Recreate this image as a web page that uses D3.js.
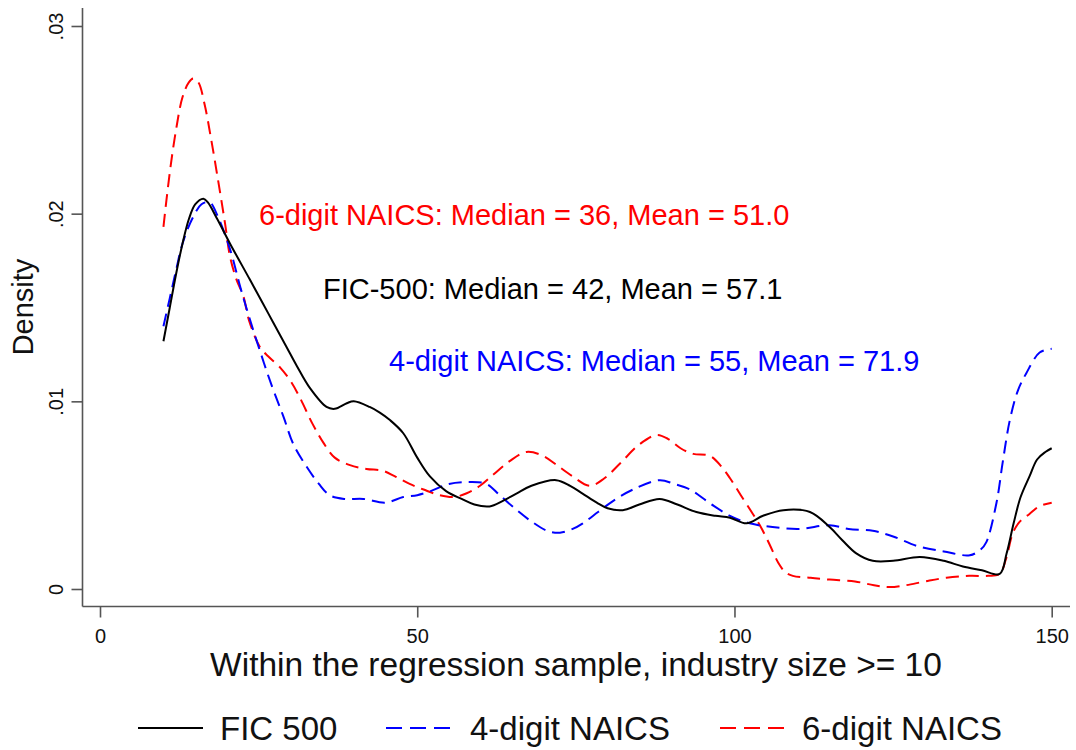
<!DOCTYPE html>
<html>
<head>
<meta charset="utf-8">
<script src="https://cdn.jsdelivr.net/npm/d3@7/dist/d3.min.js"></script>
<style>
  html, body { margin: 0; padding: 0; background: #fff; }
  svg { display: block; font-family: "Liberation Sans", Arial, sans-serif; }
</style>
</head>
<body>
<svg id="chart" width="1076" height="750"></svg>
<script>
// Kernel density of industry size, three industry definitions
const fic500Size = [10, 11, 12, 13, 14, 15, 16.3, 17, 18.5, 20.5, 23.6, 25.7, 27.3, 29.4, 31, 33.1, 35.7, 37, 38.9, 40, 42.5, 44.1, 45.7, 47.8, 50, 52, 54.6, 57, 59, 61.4, 63.5, 65.7, 68, 71.9, 74.1, 76, 78.3, 80, 82.4, 85, 88.2, 91, 94, 97, 99.3, 101.9, 104.5, 107.7, 111.9, 115, 117, 119.2, 121.8, 125, 129.2, 133, 136, 139, 141.8, 142.9, 144, 145.1, 146.5, 147.7, 149, 150];
const fic500Density = [0.0132, 0.0150, 0.0168, 0.0184, 0.0197, 0.0205, 0.0208, 0.0206, 0.0197, 0.0184, 0.0165, 0.0152, 0.0142, 0.0129, 0.0119, 0.0107, 0.0097, 0.0096, 0.0099, 0.0100, 0.0097, 0.0094, 0.0090, 0.0083, 0.0070, 0.0060, 0.0052, 0.0048, 0.0045, 0.0044, 0.0047, 0.0051, 0.0055, 0.0058, 0.0055, 0.0051, 0.0046, 0.0043, 0.0042, 0.0045, 0.0048, 0.0045, 0.0041, 0.0039, 0.0038, 0.0035, 0.0039, 0.0042, 0.0041, 0.0033, 0.0026, 0.0019, 0.0015, 0.0015, 0.0017, 0.0015, 0.0012, 0.0010, 0.0008, 0.0019, 0.0035, 0.0049, 0.0060, 0.0069, 0.0073, 0.0075];

const naics4Size = [10, 11, 12, 13, 14.5, 16, 17.3, 18.5, 20.5, 22.1, 23.5, 25.2, 27, 28.9, 30.5, 32.6, 34.5, 36.2, 38.5, 41.5, 45, 47.8, 50, 52, 55, 58.3, 60.9, 63, 65.7, 68, 70.5, 72.5, 74.5, 76.1, 78.5, 80.9, 84, 88.2, 90.5, 93, 96, 99.3, 102.4, 106, 110.3, 115, 118, 121.8, 125, 128.7, 133, 137.1, 138.8, 139.7, 141.3, 142.3, 143.4, 144.7, 146, 148.1, 150];
const naics4Density = [0.0140, 0.0155, 0.0170, 0.0184, 0.0197, 0.0205, 0.0206, 0.0199, 0.0181, 0.0161, 0.0145, 0.0127, 0.0109, 0.0092, 0.0077, 0.0065, 0.0056, 0.0050, 0.0048, 0.0048, 0.0046, 0.0049, 0.0050, 0.0052, 0.0056, 0.0057, 0.0056, 0.0050, 0.0042, 0.0036, 0.0031, 0.0030, 0.0032, 0.0035, 0.0041, 0.0047, 0.0053, 0.0058, 0.0056, 0.0053, 0.0046, 0.0039, 0.0035, 0.0033, 0.0032, 0.0034, 0.0032, 0.0031, 0.0028, 0.0023, 0.0020, 0.0018, 0.0021, 0.0025, 0.0046, 0.0068, 0.0090, 0.0106, 0.0115, 0.0126, 0.0128];

const naics6Size = [10, 11, 12, 13, 14, 14.7, 15.5, 16.5, 17.5, 18.6, 19.7, 20.5, 21.5, 22.6, 23.5, 25.2, 26.5, 28.4, 30, 31.5, 33.5, 35.2, 37, 39.4, 42, 44.6, 46.5, 48.8, 51, 53.5, 55.7, 57.8, 59.9, 62, 64.5, 67.2, 69.8, 72, 74.5, 77.2, 79.5, 82, 85, 87.7, 89.5, 91.5, 93.5, 96.1, 98, 99.3, 101, 102.9, 104, 105.5, 106.9, 108, 109.2, 112, 115, 119, 122, 124.5, 127, 130, 133.4, 137, 140, 141.8, 142.8, 143.9, 145, 146.5, 148, 150];
const naics6Density = [0.0193, 0.0222, 0.0245, 0.0262, 0.0270, 0.0272, 0.0270, 0.0258, 0.0240, 0.0218, 0.0195, 0.0177, 0.0165, 0.0156, 0.0143, 0.0129, 0.0124, 0.0118, 0.0111, 0.0102, 0.0088, 0.0078, 0.0070, 0.0066, 0.0064, 0.0063, 0.0060, 0.0056, 0.0053, 0.0050, 0.0049, 0.0051, 0.0055, 0.0061, 0.0068, 0.0073, 0.0071, 0.0066, 0.0060, 0.0055, 0.0059, 0.0067, 0.0077, 0.0082, 0.0080, 0.0075, 0.0072, 0.0071, 0.0065, 0.0059, 0.0050, 0.0040, 0.0034, 0.0024, 0.0014, 0.0009, 0.0007, 0.0006, 0.0005, 0.0004, 0.0002, 0.0001, 0.0002, 0.0004, 0.0006, 0.0007, 0.0007, 0.0008, 0.0016, 0.0030, 0.0036, 0.0040, 0.0044, 0.0046];

const xTicks = [0, 50, 100, 150];
const yTicks = [0, 0.01, 0.02, 0.03];
const yTickLabels = ["0", ".01", ".02", ".03"];

const seriesNames = ["FIC 500", "4-digit NAICS", "6-digit NAICS"];
const seriesColors = ["#000000", "#0000ff", "#ff0000"];

const noteTexts = [
  "6-digit NAICS: Median = 36, Mean = 51.0",
  "FIC-500: Median = 42, Mean = 57.1",
  "4-digit NAICS: Median = 55, Mean = 71.9"
];
const noteColors = ["#ff0000", "#000000", "#0000ff"];

const xTitle = "Within the regression sample, industry size >= 10";
const yTitle = "Density";

// ---- layout ----
const svg = d3.select("#chart");
const axisX = 82.5;      // vertical axis line position
const axisY = 606.5;     // horizontal axis line position
const plotTop = 8;
const plotRight = 1070;

const x = d3.scaleLinear().domain([0, 150]).range([100, 1051.7]);
const y = d3.scaleLinear().domain([0, 0.03]).range([589, 26]);

const axisColor = "#555";

// axis lines
svg.append("line")
  .attr("x1", axisX).attr("x2", axisX)
  .attr("y1", plotTop).attr("y2", axisY)
  .attr("stroke", axisColor).attr("stroke-width", 1.6);
svg.append("line")
  .attr("x1", axisX).attr("x2", plotRight)
  .attr("y1", axisY).attr("y2", axisY)
  .attr("stroke", axisColor).attr("stroke-width", 1.6);

// y axis ticks with rotated labels
const yAxis = svg.append("g")
  .attr("transform", `translate(${axisX},0)`)
  .call(d3.axisLeft(y).tickValues(yTicks).tickSize(11)
    .tickFormat((d, i) => yTickLabels[i]));
yAxis.select(".domain").remove();
yAxis.selectAll(".tick line").attr("stroke", axisColor).attr("stroke-width", 1.6);
yAxis.selectAll(".tick text")
  .attr("transform", "rotate(-90)")
  .attr("x", 0).attr("y", -20).attr("dy", null)
  .attr("text-anchor", "middle")
  .attr("fill", "#111")
  .style("font-size", "20px")
  .style("font-family", "'Liberation Sans', Arial, sans-serif");

// x axis ticks
const xAxis = svg.append("g")
  .attr("transform", `translate(0,${axisY})`)
  .call(d3.axisBottom(x).tickValues(xTicks).tickSize(11).tickFormat(d3.format("d")));
xAxis.select(".domain").remove();
xAxis.selectAll(".tick line").attr("stroke", axisColor).attr("stroke-width", 1.6);
xAxis.selectAll(".tick text")
  .attr("y", 36.5).attr("dy", null)
  .attr("fill", "#111")
  .style("font-size", "20px")
  .style("font-family", "'Liberation Sans', Arial, sans-serif");

// axis titles
svg.append("text")
  .attr("x", 576).attr("y", 676)
  .attr("text-anchor", "middle")
  .attr("fill", "#111")
  .style("font-size", "33.5px")
  .text(xTitle);
svg.append("text")
  .attr("transform", `translate(33,307) rotate(-90)`)
  .attr("text-anchor", "middle")
  .attr("fill", "#111")
  .style("font-size", "29px")
  .text(yTitle);

// density curves
const seriesData = [
  { size: fic500Size, dens: fic500Density, dash: null },
  { size: naics4Size, dens: naics4Density, dash: "13,7" },
  { size: naics6Size, dens: naics6Density, dash: "13,7" }
];
const line = d3.line()
  .x(d => x(d[0]))
  .y(d => y(d[1]))
  .curve(d3.curveCatmullRom.alpha(0.5));

// draw in back-to-front order: 6-digit, 4-digit, FIC 500
[2, 1, 0].forEach(i => {
  const s = seriesData[i];
  const pts = s.size.map((v, j) => [v, s.dens[j]]);
  svg.append("path")
    .datum(pts)
    .attr("d", line)
    .attr("fill", "none")
    .attr("stroke", seriesColors[i])
    .attr("stroke-width", 2)
    .attr("stroke-dasharray", s.dash)
    .attr("stroke-linejoin", "round");
});

// summary statistic notes
const notePos = [[259, 225], [323, 299], [389, 371]];
noteTexts.forEach((t, i) => {
  svg.append("text")
    .attr("x", notePos[i][0]).attr("y", notePos[i][1])
    .attr("fill", noteColors[i])
    .style("font-size", "29px")
    .text(t);
});

// legend
const legendItems = [
  { lx: 138, tx: 220 },
  { lx: 386, tx: 470 },
  { lx: 720, tx: 802 }
];
legendItems.forEach((it, i) => {
  svg.append("line")
    .attr("x1", it.lx).attr("x2", it.lx + 65)
    .attr("y1", 728).attr("y2", 728)
    .attr("stroke", seriesColors[i])
    .attr("stroke-width", 2)
    .attr("stroke-dasharray", i === 0 ? null : "16,8");
  svg.append("text")
    .attr("x", it.tx).attr("y", 740)
    .attr("fill", "#111")
    .style("font-size", "33px")
    .text(seriesNames[i]);
});
</script>
</body>
</html>
